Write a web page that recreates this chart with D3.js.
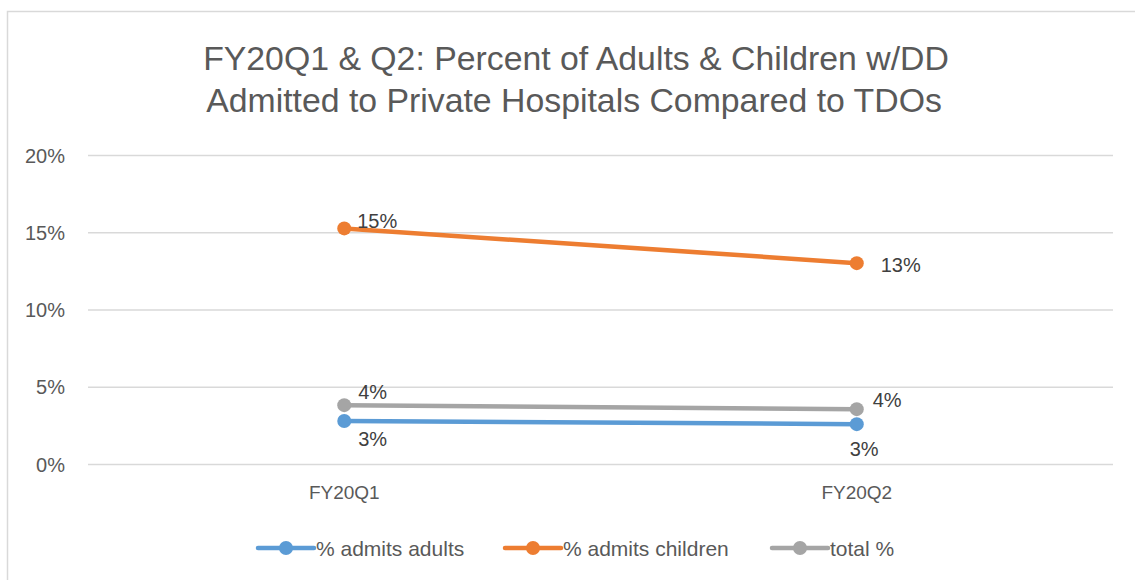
<!DOCTYPE html>
<html><head><meta charset="utf-8">
<script src="https://cdn.jsdelivr.net/npm/d3@7"></script>
<style>body{margin:0;background:#fff}svg{display:block}text{font-family:"Liberation Sans",Arial,sans-serif}</style>
</head><body>
<svg id="c" width="1135" height="580"></svg>
<script>
const categories = ["FY20Q1", "FY20Q2"];
const adults = [0.0278, 0.0258];
const children = [0.1525, 0.130];
const total = [0.0381, 0.0355];
const yTicks = [0, 0.05, 0.10, 0.15, 0.20];
const seriesNames = ["% admits adults", "% admits children", "total %"];
const seriesColors = ["#5B9BD5", "#ED7D31", "#A5A5A5"];
const series = [adults, children, total].map((v, i) => ({name: seriesNames[i], color: seriesColors[i], values: v}));

const svg = d3.select("#c");
svg.append("rect").attr("x", 7.5).attr("y", 11.5).attr("width", 1140).attr("height", 580)
  .attr("fill", "#fff").attr("stroke", "#D9D9D9").attr("stroke-width", 1.5);

const x = d3.scaleBand().domain(categories).range([88, 1113]);
const y = d3.scaleLinear().domain([0, 0.20]).range([464, 155]);

const title = svg.append("text").attr("text-anchor", "middle").attr("fill", "#595959").attr("font-size", 33.8);
title.append("tspan").attr("x", 576).attr("y", 70).text("FY20Q1 & Q2: Percent of Adults & Children w/DD");
title.append("tspan").attr("x", 574).attr("y", 112).text("Admitted to Private Hospitals Compared to TDOs");

const yAxis = svg.append("g").attr("transform", "translate(88,0)")
  .call(d3.axisLeft(y).tickValues(yTicks).tickFormat(d3.format(".0%")).tickSize(-1025).tickPadding(23));
yAxis.select(".domain").remove();
yAxis.selectAll("line").attr("stroke", "#D9D9D9").attr("stroke-width", 1.5);
yAxis.selectAll("text").attr("fill", "#595959").attr("font-size", 20).attr("dy", "0.35em")
  .attr("font-family", "Liberation Sans, Arial, sans-serif");

const xAxis = svg.append("g").attr("transform", "translate(0,464)")
  .call(d3.axisBottom(x).tickSize(0).tickPadding(22));
xAxis.select(".domain").remove();
xAxis.selectAll("text").attr("fill", "#595959").attr("font-size", 19).attr("font-family", "Liberation Sans, Arial, sans-serif");

const cx = d => x(d) + x.bandwidth() / 2;
const line = d3.line().x((d, i) => cx(categories[i])).y(d => y(d));

series.forEach(s => {
  svg.append("path").datum(s.values).attr("d", line).attr("fill", "none")
    .attr("stroke", s.color).attr("stroke-width", 4.5).attr("stroke-linecap", "round");
  svg.selectAll(null).data(s.values).enter().append("circle")
    .attr("cx", (d, i) => cx(categories[i])).attr("cy", d => y(d)).attr("r", 7).attr("fill", s.color);
});

// data labels: [series index, point index, dx, dy]
const labelPos = [
  [0, 0, 14, 25], [0, 1, -7, 32],
  [1, 0, 13, 0], [1, 1, 24, 9],
  [2, 0, 14, -6], [2, 1, 16, -2]
];
labelPos.forEach(([si, pi, dx, dy]) => {
  const v = series[si].values[pi];
  svg.append("text").attr("x", cx(categories[pi]) + dx).attr("y", y(v) + dy)
    .attr("fill", "#404040").attr("font-size", 20)
    .text(d3.format(".0%")(v));
});

// legend
const legendX = [258, 505, 772];
series.forEach((s, i) => {
  const g = svg.append("g").attr("transform", `translate(${legendX[i]},548)`);
  g.append("line").attr("x1", 0).attr("x2", 56).attr("stroke", s.color).attr("stroke-width", 4.5).attr("stroke-linecap", "round");
  g.append("circle").attr("cx", 28).attr("r", 7).attr("fill", s.color);
  g.append("text").attr("x", 58).attr("y", 7.5).attr("fill", "#595959").attr("font-size", 21).text(s.name);
});
</script>
</body></html>
